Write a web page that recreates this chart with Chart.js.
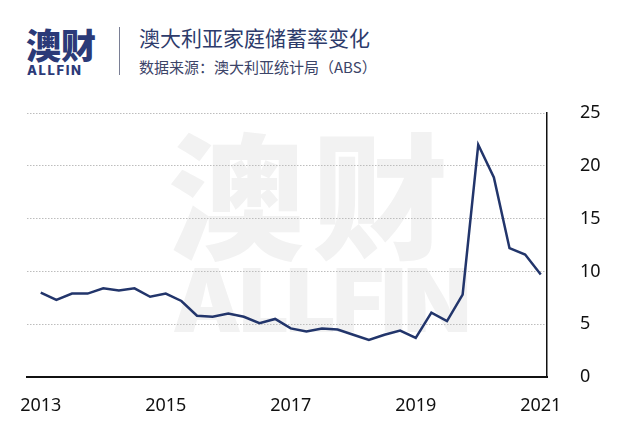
<!DOCTYPE html>
<html>
<head>
<meta charset="utf-8">
<script src="https://cdn.jsdelivr.net/npm/chart.js@4"></script>
<style>
  html, body { margin: 0; padding: 0; background: #fff; }
  #wrap { position: relative; width: 640px; height: 437px; overflow: hidden; font-family: "Noto Sans CJK SC", "Noto Sans", sans-serif; }
  .abs { position: absolute; white-space: nowrap; }
  #logo { left: 26px; top: 19px; font-size: 35px; font-weight: 900; color: #2b3a78; line-height: 50px; }
  #logoEn { left: 27px; top: 62px; font-family: "Inter", "Roboto", sans-serif; font-size: 13px; font-weight: 800; color: #2b3a78; letter-spacing: 1.6px; }
  #divider { left: 119px; top: 27px; width: 1px; height: 48px; background: #7a7f95; }
  #title { left: 139px; top: 22px; font-size: 21px; color: #2d3b6b; line-height: 30px; }
  #sub { left: 139px; top: 56px; font-size: 15px; color: #3c4468; line-height: 22px; }
  #wm1 { left: 168px; top: 100px; font-size: 136px; font-weight: 900; color: #f2f2f2; line-height: 180px; letter-spacing: 8px; }
  #wm2 { left: 172px; top: 250px; font-family: "Inter", "Roboto", sans-serif; font-size: 88px; font-weight: 900; color: #f2f2f2; line-height: 100px; letter-spacing: -3px; }
  canvas { position: absolute; left: 0; top: 0; }
</style>
</head>
<body>
<div id="wrap">
  <div class="abs" id="wm1">澳财</div>
  <div class="abs" id="wm2">ALLFIN</div>
  <div class="abs" id="logo">澳财</div>
  <div class="abs" id="logoEn">ALLFIN</div>
  <div class="abs" id="divider"></div>
  <div class="abs" id="title">澳大利亚家庭储蓄率变化</div>
  <div class="abs" id="sub">数据来源：澳大利亚统计局（ABS）</div>
  <canvas id="chart" width="640" height="437"></canvas>
</div>
<script>
// quarterly household saving ratio, %
const quarters = [
  "2013Q2", "2013Q3", "2013Q4", "2014Q1", "2014Q2", "2014Q3", "2014Q4", "2015Q1",
  "2015Q2", "2015Q3", "2015Q4", "2016Q1", "2016Q2", "2016Q3", "2016Q4", "2017Q1",
  "2017Q2", "2017Q3", "2017Q4", "2018Q1", "2018Q2", "2018Q3", "2018Q4", "2019Q1",
  "2019Q2", "2019Q3", "2019Q4", "2020Q1", "2020Q2", "2020Q3", "2020Q4", "2021Q1",
  "2021Q2"
];
const savingRatio = [
  8.0, 7.3, 7.9, 7.9, 8.4, 8.2, 8.4, 7.6,
  7.9, 7.2, 5.8, 5.7, 6.0, 5.7, 5.1, 5.5,
  4.6, 4.3, 4.6, 4.5, 4.0, 3.5, 4.0, 4.4,
  3.7, 6.1, 5.3, 7.8, 22.0, 18.9, 12.2, 11.6,
  9.7
];
const yearLabels = ["2013", "2015", "2017", "2019", "2021"];
const yTicks = [0, 5, 10, 15, 20, 25];

const points = savingRatio.map((v, i) => ({ x: i, y: v }));
const yearIndex = yearLabels.map((y) => quarters.indexOf(y + "Q2"));

new Chart(document.getElementById("chart"), {
  type: "line",
  data: {
    datasets: [
      {
        data: points,
        borderColor: "#22356b",
        borderWidth: 2.5,
        pointRadius: 0,
        tension: 0,
        fill: false
      }
    ]
  },
  options: {
    responsive: false,
    animation: false,
    layout: {
      padding: { left: 27, top: 113, right: 0, bottom: 0 }
    },
    plugins: {
      legend: { display: false },
      tooltip: { enabled: false }
    },
    scales: {
      x: {
        type: "linear",
        min: -0.88,
        max: 32.4,
        afterBuildTicks: (scale) => {
          scale.ticks = yearIndex.map((v) => ({ value: v }));
        },
        afterFit: (scale) => {
          scale.height = 60;
        },
        grid: { display: false },
        border: { display: true, color: "#111", width: 2 },
        ticks: {
          color: "#111",
          padding: 10,
          maxRotation: 0,
          font: { family: "Noto Sans", size: 18 },
          callback: (value) => yearLabels[yearIndex.indexOf(value)] || ""
        }
      },
      y: {
        position: "right",
        min: 0,
        max: 25,
        afterBuildTicks: (scale) => {
          scale.ticks = yTicks.map((v) => ({ value: v }));
        },
        afterFit: (scale) => {
          scale.width = 93;
        },
        grid: {
          color: "#bdbdbd",
          lineWidth: 1,
          drawTicks: false
        },
        border: { display: true, color: "#111", width: 1.5, dash: [1.5, 1.5] },
        ticks: {
          color: "#111",
          padding: 33,
          font: { family: "Noto Sans", size: 18 }
        }
      }
    }
  }
});
</script>
</body>
</html>
